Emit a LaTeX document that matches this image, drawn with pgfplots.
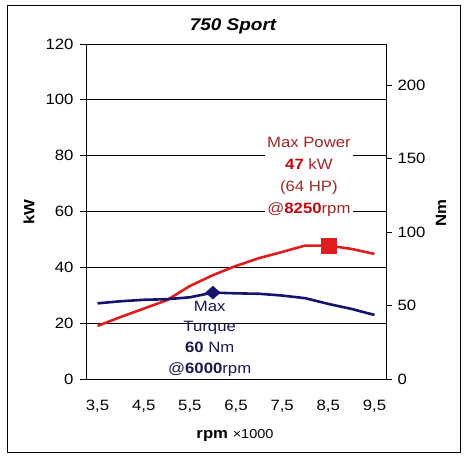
\documentclass[border=0pt]{standalone}
\usepackage{fontspec}
\setmainfont{Liberation Sans}[FakeStretch=1.12]
\usepackage{pgfplots}
\pgfplotsset{compat=1.18}
\definecolor{pw}{RGB}{222,30,30}
\definecolor{tq}{RGB}{20,20,110}
\definecolor{pwtxt}{RGB}{160,40,40}
\definecolor{pwbold}{RGB}{190,10,10}
\definecolor{tqtxt}{RGB}{25,25,80}
\pgfplotstableread{
rpm kw
3.5 19.0
4.0 22.2
4.5 25.2
5.0 28.2
5.5 33.3
6.0 37.2
6.5 40.5
7.0 43.3
7.5 45.5
8.0 47.8
8.5 47.8
9.0 46.6
9.5 44.8
}\power
\pgfplotstableread{
rpm nm
3.5 51.5
4.0 52.9
4.5 53.9
5.0 54.3
5.5 55.6
6.0 58.8
6.5 58.3
7.0 58.0
7.5 56.8
8.0 55.0
8.5 51.1
9.0 47.7
9.5 43.6
}\torque
\begin{document}
\begin{tikzpicture}[x=1bp,y=1bp]
\path (0,0) rectangle (468,462);
\draw[line width=1bp] (7,9) rectangle (460,456);
\pgfplotsset{
  common/.style={
    at={(86bp,83bp)}, anchor=south west, scale only axis,
    width=300bp, height=335bp,
    xmin=3.25, xmax=9.75,
    ticklabel style={font=\fontsize{15}{17}\selectfont},
    /pgf/number format/assume math mode=true,
    axis line style={black, line width=0.9bp},
    tick align=outside, major tick length=6bp,
    tick style={black, line width=0.8bp},
  }
}
\begin{axis}[common,
  ymin=0, ymax=120,
  xtick={3.5,4.5,5.5,6.5,7.5,8.5,9.5},
  xticklabels={{3,5},{4,5},{5,5},{6,5},{7,5},{8,5},{9,5}},
  major x tick style={draw=none},
  xticklabel style={yshift=-12bp},
  ytick={0,20,...,120},
  yticklabel style={xshift=-3bp},
  ytick pos=left, xtick pos=bottom,
  ymajorgrids, grid style={black, line width=0.8bp},
]
\addplot[pw, line width=2.6bp] table[x=rpm,y=kw] {\power};
\addplot[only marks, mark=square*, mark size=7.5bp, pw] coordinates {(8.5,47.8)};
\node[fill=white, align=center, inner xsep=1bp, inner ysep=4bp, minimum width=88bp,
  font=\fontsize{15}{22}\selectfont, text=pwtxt]
  at (axis cs:8.08,72.4)
  {Max Power\\\textcolor{pwbold}{\bfseries 47} kW\\(64 HP)\\@\textcolor{pwbold}{\bfseries 8250}rpm};
\node[align=center, inner sep=0pt,
  font=\fontsize{15}{21}\selectfont, text=tqtxt]
  at (axis cs:5.93,14.4)
  {Max\\Turque\\{\bfseries 60} Nm\\@{\bfseries 6000}rpm};
\end{axis}
\begin{axis}[common,
  ymin=0, ymax=228,
  axis y line*=right, axis x line=none,
  ytick={0,50,...,200},
  yticklabel style={xshift=2bp},
]
\addplot[tq, line width=2.6bp] table[x=rpm,y=nm] {\torque};
\addplot[only marks, mark=diamond*, mark size=6.5bp, mark options={xscale=1.5}, tq] coordinates {(6,58.8)};
\end{axis}
\node[font=\fontsize{17}{19}\selectfont\bfseries\itshape] at (233,436) {750 Sport};
\node[rotate=90, font=\fontsize{15}{17}\selectfont\bfseries] at (29,250) {kW};
\node[rotate=90, font=\fontsize{15}{17}\selectfont\bfseries] at (441,249) {Nm};
\node[font=\fontsize{15}{17}\selectfont] at (235,26) {\textbf{rpm} \fontsize{13}{15}\selectfont×1000};
\end{tikzpicture}
\end{document}
